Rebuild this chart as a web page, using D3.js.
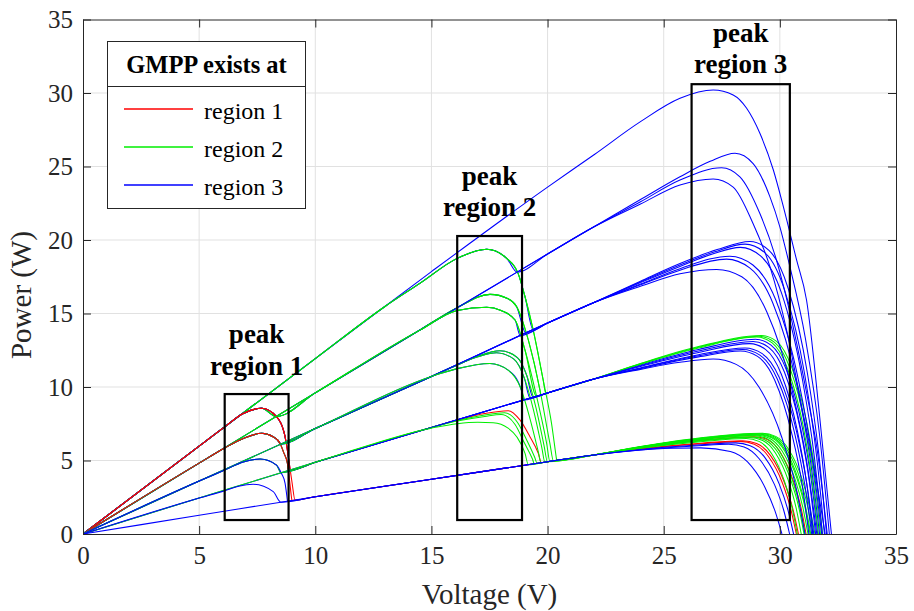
<!DOCTYPE html>
<html>
<head>
<meta charset="utf-8">
<script src="https://cdn.jsdelivr.net/npm/d3@7"></script>
<style>
  body { margin: 0; background: #fff; }
  svg { display: block; }
  text { font-family: "Liberation Serif", "Times New Roman", Times, serif; fill: #262626; }
</style>
</head>
<body>
<svg id="chart" width="914" height="611"></svg>
<script>
// ---------------- DATA ----------------
const xTicks = [0, 5, 10, 15, 20, 25, 30, 35];
const yTicks = [0, 5, 10, 15, 20, 25, 30, 35];
const levels = [1, 0.8, 0.6, 0.4, 0.2];
const legendLabels = ["region 1", "region 2", "region 3"];
const legendTitle = "GMPP exists at";
const regionColors = ["#ff0000", "#00ee00", "#0000ff"];

// straight (constant-current) parts, Voltage (V) -> Power (W)
const rays = {
  "1":   [[0,0],[5,5.98],[10,11.93],[15,17.85],[20,23.6],[22,25.8]],
  "0.8": [[0,0],[5,4.82],[10,9.6],[15,14.35],[20,19.05],[22,20.9]],
  "0.6": [[0,0],[5,3.6],[10,7.18],[15,10.72],[20,14.35],[22,15.75]],
  "0.4": [[0,0],[5,2.45],[10,4.88],[15,7.25],[20,9.6],[22,10.55]],
  "0.2": [[0,0],[5,1.27],[10,2.54],[15,3.72],[20,4.92],[22,5.38]]
};

// humps in peak region 1 (keyed by highest irradiance a)
const hump1 = {
  "1":   [[6.1,7.29],[6.9,8.2],[7.69,8.55],[8.33,7.98],[8.7,6.62],[8.88,4.81],[9.0,3.5],[9.13,2.3],[9.2,1.6]],
  "0.8": [[6.1,5.85],[6.9,6.5],[7.69,6.85],[8.2,6.6],[8.48,6.17],[8.65,5.5],[8.8,4.81],[8.98,2.43],[9.05,1.6]],
  "0.6": [[6.1,4.35],[6.9,4.9],[7.62,5.1],[8.33,4.69],[8.55,4.1],[8.7,3.45],[8.8,2.27],[8.85,1.6]],
  "0.4": [[6.1,2.95],[6.7,3.25],[7.33,3.38],[8.19,2.88],[8.52,2.16],[8.6,1.6]]
};

// humps in peak region 2 (keyed by a,b)
const hump2 = {
  "1,1":     [[13,15.48],[14.5,17.05],[16.11,18.75],[17.38,19.37],[18.24,18.75],[18.73,17.73],[19.03,16.14],[19.38,13.88],[19.81,10.48],[20.17,7.53],[20.39,5.03],[20.45,4.4]],
  "1,0.8":   [[14.5,13.87],[16.11,15.4],[17.52,16.3],[18.3,16.0],[18.67,15.46],[19.17,13.2],[19.67,9.8],[20.1,6.17],[20.3,4.6]],
  "0.8,0.8": [[14.5,13.87],[16.11,15.2],[17.38,15.42],[18.0,15.2],[18.6,14.56],[19.03,12.5],[19.53,9.34],[19.96,6.17],[20.15,4.5]],
  "1,0.6":   [[15,10.72],[16.11,11.5],[17.0,12.1],[17.95,12.47],[18.7,12.0],[19.1,10.8],[19.5,8.6],[19.85,6.0],[20.05,4.5]],
  "0.8,0.6": [[15,10.72],[16.11,11.5],[17.0,12.05],[17.8,12.33],[18.55,11.9],[19.0,10.6],[19.4,8.4],[19.75,5.9],[19.95,4.4]],
  "0.6,0.6": [[15,10.72],[16.11,11.25],[17.52,11.6],[18.3,11.15],[18.85,9.9],[19.25,7.8],[19.6,5.6],[19.8,4.3]],
  "1,0.4":   [[15,7.25],[16.11,7.75],[17.3,8.2],[18.3,8.39],[18.81,7.76],[19.24,6.62],[19.6,5.49],[19.85,4.3]],
  "0.8,0.4": [[15,7.25],[16.11,7.72],[17.3,8.1],[18.15,8.25],[18.7,7.6],[19.1,6.4],[19.45,5.2],[19.7,4.2]],
  "0.6,0.4": [[15,7.25],[16.11,7.68],[17.3,8.0],[18.0,8.13],[18.6,7.45],[19.0,6.2],[19.35,5.1],[19.6,4.1]],
  "0.4,0.4": [[15,7.2],[16.11,7.5],[17.0,7.6],[17.66,7.57],[18.3,7.2],[18.67,6.62],[19.03,5.49],[19.3,4.0]]
};

// humps in peak region 3 (keyed by a,b,c)
const hump3 = {
  "1,1,1":       [[24,28.05],[25.7,29.64],[27.13,30.2],[27.99,29.86],[28.57,28.96],[29.14,27.26],[29.72,24.76],[30.15,22.27],[30.72,18.64],[31.15,15.9],[31.7,8.2],[32.22,0]],
  "1,1,0.8":     [[24,22.75],[25.7,24.3],[27.0,25.35],[28.07,25.9],[28.85,25.2],[29.57,22.95],[30.0,20.9],[30.43,18.2],[31.1,13.3],[31.72,6.6],[32.13,0]],
  "1,0.8,0.8":   [[24,22.6],[25.7,24.08],[27.49,24.92],[28.28,24.3],[29.14,21.8],[29.86,18.6],[30.5,14.6],[31.2,9.2],[31.6,5.8],[32.04,0]],
  "0.8,0.8,0.8": [[24,22.45],[25.7,23.74],[27.13,24.15],[27.99,23.6],[28.85,21.1],[29.57,18.2],[30.3,13.8],[30.95,8.6],[31.45,4.7],[31.95,0]],
  "1,1,0.6":     [[24,17.2],[25.7,18.4],[27.3,19.35],[28.71,19.9],[29.53,19.3],[30.36,16.7],[31.19,10.9],[31.68,5.4],[32.01,0]],
  "1,0.8,0.6":   [[24,17.15],[25.7,18.3],[27.2,19.2],[28.5,19.72],[29.36,19.13],[30.21,16.56],[31.07,10.85],[31.58,5.32],[31.92,0]],
  "0.8,0.8,0.6": [[24,17.1],[25.7,18.2],[27.1,19.05],[28.3,19.5],[29.18,18.9],[30.07,16.4],[30.95,10.7],[31.48,5.3],[31.83,0]],
  "1,0.6,0.6":   [[24,17.0],[25.7,18.05],[27.85,18.9],[28.84,18.3],[29.83,15.9],[30.81,10.4],[31.4,5.1],[31.8,0]],
  "0.8,0.6,0.6": [[24,16.95],[25.7,17.95],[27.7,18.7],[28.7,18.1],[29.7,15.7],[30.71,10.3],[31.31,5.05],[31.71,0]],
  "0.6,0.6,0.6": [[24,16.85],[25.7,17.7],[27.28,18.0],[28.36,17.5],[29.44,15.1],[30.51,9.9],[31.16,4.9],[31.59,0]],
  "1,1,0.4":     [[24,11.6],[26.5,12.75],[29.2,13.5],[29.86,13.1],[30.52,11.3],[31.18,7.4],[31.58,3.6],[31.84,0]],
  "1,0.8,0.4":   [[24,11.58],[26.5,12.7],[29.1,13.45],[29.76,13.05],[30.43,11.3],[31.09,7.4],[31.49,3.6],[31.75,0]],
  "0.8,0.8,0.4": [[24,11.55],[26.5,12.65],[29.0,13.4],[29.67,13.0],[30.33,11.26],[31.0,7.37],[31.39,3.6],[31.66,0]],
  "1,0.6,0.4":   [[24,11.5],[26.5,12.55],[28.95,13.25],[29.62,12.85],[30.29,11.13],[30.96,7.29],[31.36,3.58],[31.63,0]],
  "0.8,0.6,0.4": [[24,11.45],[26.5,12.45],[28.85,13.1],[29.52,12.7],[30.2,11.0],[30.87,7.2],[31.27,3.54],[31.54,0]],
  "0.6,0.6,0.4": [[24,11.4],[26.5,12.35],[28.7,12.95],[29.38,12.56],[30.06,10.88],[30.74,7.12],[31.15,3.5],[31.42,0]],
  "1,0.4,0.4":   [[24,11.3],[26.5,12.2],[28.5,12.65],[29.24,12.27],[29.98,10.63],[30.72,6.96],[31.16,3.42],[31.46,0]],
  "0.8,0.4,0.4": [[24,11.28],[26.5,12.12],[28.4,12.55],[29.14,12.17],[29.89,10.54],[30.63,6.9],[31.07,3.39],[31.37,0]],
  "0.6,0.4,0.4": [[24,11.25],[26.5,12.05],[28.3,12.45],[29.04,12.08],[29.78,10.46],[30.51,6.85],[30.96,3.36],[31.25,0]],
  "0.4,0.4,0.4": [[24,11.2],[25.7,11.68],[27.13,11.9],[28.12,11.54],[29.1,10.0],[30.09,6.55],[30.69,3.2],[31.08,0]],
  "1,1,0.2":     [[24,5.95],[26.6,6.55],[29.25,6.85],[29.82,6.64],[30.38,5.75],[30.95,3.77],[31.28,1.85],[31.51,0]],
  "1,0.8,0.2":   [[24,5.94],[26.6,6.52],[29.2,6.82],[29.76,6.62],[30.31,5.73],[30.87,3.75],[31.2,1.84],[31.42,0]],
  "0.8,0.8,0.2": [[24,5.93],[26.6,6.5],[29.15,6.78],[29.7,6.58],[30.24,5.7],[30.79,3.73],[31.11,1.83],[31.33,0]],
  "1,0.6,0.2":   [[24,5.92],[26.6,6.47],[29.1,6.75],[29.65,6.55],[30.2,5.67],[30.75,3.71],[31.08,1.82],[31.3,0]],
  "0.8,0.6,0.2": [[24,5.91],[26.6,6.45],[29.0,6.72],[29.55,6.52],[30.1,5.64],[30.66,3.7],[30.99,1.81],[31.21,0]],
  "0.6,0.6,0.2": [[24,5.9],[26.6,6.42],[28.9,6.68],[29.45,6.48],[29.99,5.61],[30.54,3.67],[30.87,1.8],[31.09,0]],
  "1,0.4,0.2":   [[24,5.88],[26.6,6.38],[28.9,6.62],[29.46,6.42],[30.02,5.56],[30.57,3.64],[30.91,1.79],[31.13,0]],
  "0.8,0.4,0.2": [[24,5.87],[26.6,6.36],[28.8,6.6],[29.36,6.4],[29.92,5.54],[30.48,3.63],[30.82,1.78],[31.04,0]],
  "0.6,0.4,0.2": [[24,5.86],[26.6,6.33],[28.7,6.56],[29.26,6.36],[29.81,5.51],[30.37,3.61],[30.7,1.77],[30.92,0]],
  "0.4,0.4,0.2": [[24,5.84],[26.6,6.28],[28.55,6.5],[29.1,6.3],[29.65,5.46],[30.2,3.58],[30.53,1.76],[30.75,0]],
  "1,0.2,0.2":   [[24,5.8],[26.6,6.18],[28.4,6.35],[29.0,6.16],[29.6,5.33],[30.2,3.49],[30.56,1.71],[30.8,0]],
  "0.8,0.2,0.2": [[24,5.78],[26.6,6.14],[28.3,6.3],[28.9,6.11],[29.5,5.29],[30.11,3.47],[30.47,1.7],[30.71,0]],
  "0.6,0.2,0.2": [[24,5.75],[26.6,6.07],[28.1,6.2],[28.72,6.01],[29.35,5.21],[29.97,3.41],[30.34,1.67],[30.59,0]],
  "0.4,0.2,0.2": [[24,5.72],[26.5,6.0],[27.8,6.1],[28.46,5.92],[29.11,5.12],[29.77,3.36],[30.16,1.65],[30.42,0]],
  "0.2,0.2,0.2": [[24,5.72],[25.4,5.83],[26.6,5.86],[27.87,5.62],[28.61,4.9],[29.35,3.2],[29.79,1.57],[30.09,0]]
};

// irradiance of the three modules (a >= b >= c) and the region holding the GMPP, in drawing order
const curves = [
  [1,1,1,3],[1,1,0.8,3],[1,1,0.6,3],[1,1,0.4,2],[1,1,0.2,2],
  [1,0.8,0.8,3],[1,0.8,0.6,3],[1,0.8,0.4,2],[1,0.8,0.2,2],
  [1,0.6,0.6,3],[1,0.6,0.4,3],[1,0.6,0.2,2],
  [1,0.4,0.4,3],[1,0.4,0.2,1],[1,0.2,0.2,1],
  [0.8,0.8,0.8,3],[0.8,0.8,0.6,3],[0.8,0.8,0.4,2],[0.8,0.8,0.2,2],
  [0.8,0.6,0.6,3],[0.8,0.6,0.4,3],[0.8,0.6,0.2,2],
  [0.8,0.4,0.4,3],[0.8,0.4,0.2,2],[0.8,0.2,0.2,1],
  [0.6,0.6,0.6,3],[0.6,0.6,0.4,3],[0.6,0.6,0.2,2],
  [0.6,0.4,0.4,3],[0.6,0.4,0.2,2],[0.6,0.2,0.2,3],
  [0.4,0.4,0.4,3],[0.4,0.4,0.2,2],[0.4,0.2,0.2,3],
  [0.2,0.2,0.2,3]
];

// peak-region boxes [V0, V1, P0, P1]
const peakBoxes = [[6.1, 8.85, 0.95, 9.52], [16.11, 18.9, 0.95, 20.27], [26.2, 30.43, 0.95, 30.6]];
const peakLabels = [["peak", "region 1"], ["peak", "region 2"], ["peak", "region 3"]];

// ---------------- LAYOUT ----------------
const L = 83, R = 896, T = 19.5, B = 534;
const svg = d3.select("#chart");
const x = d3.scaleLinear().domain([0, 35]).range([L, R]);
const y = d3.scaleLinear().domain([0, 35]).range([B, T]);
const axisColor = "#262626";

// grid
const grid = svg.append("g");
grid.selectAll("line.gx").data(xTicks.slice(1, -1)).join("line")
  .attr("x1", d => x(d)).attr("x2", d => x(d)).attr("y1", T).attr("y2", B)
  .attr("stroke", "#e1e1e1").attr("stroke-width", 1);
grid.selectAll("line.gy").data(yTicks.slice(1, -1)).join("line")
  .attr("y1", d => y(d)).attr("y2", d => y(d)).attr("x1", L).attr("x2", R)
  .attr("stroke", "#e1e1e1").attr("stroke-width", 1);

// curves
function rayAt(level, v) {
  const r = rays[level];
  for (let i = 1; i < r.length; i++) {
    if (v <= r[i][0] || i === r.length - 1) {
      const [v0, p0] = r[i - 1], [v1, p1] = r[i];
      return p0 + (v - v0) / (v1 - v0) * (p1 - p0);
    }
  }
}
function addHump(pts, hump, low) {
  for (let i = 0; i < hump.length; i++) {
    const [v, p] = hump[i];
    const rv = rayAt(String(low), v);
    if (p > rv) { pts.push([v, p]); continue; }
    if (i === 0) { pts.push([v, rv]); return; }
    const [v0, p0] = hump[i - 1];
    const d0 = p0 - rayAt(String(low), v0), d1 = p - rv;
    const vx = v0 + d0 / (d0 - d1) * (v - v0);
    pts.push([vx, rayAt(String(low), vx)]);
    return;
  }
}
function lastV(pts) { return pts[pts.length - 1][0]; }
function pushRay(pts, level, vEnd) {
  const v0 = lastV(pts);
  rays[String(level)].forEach(p => { if (p[0] > v0 + 0.05 && p[0] < vEnd - 0.05) pts.push(p); });
}
function build(a, b, c) {
  const pts = [[0, 0]];
  if (a > b) {
    const h1 = hump1[String(a)];
    pushRay(pts, a, h1[0][0]);
    addHump(pts, h1, b);
  }
  const h2 = b > c ? hump2[a + "," + b] : null;
  const h3 = hump3[a + "," + b + "," + c];
  pushRay(pts, b, h2 ? h2[0][0] : h3[0][0]);
  if (h2) { addHump(pts, h2, c); pushRay(pts, c, h3[0][0]); }
  const v0 = lastV(pts);
  h3.forEach(p => { if (p[0] > v0 + 0.05) pts.push(p); });
  return pts;
}

svg.append("clipPath").attr("id", "plotclip").append("rect")
  .attr("x", L).attr("y", T).attr("width", R - L).attr("height", B - T);
const line = d3.line().x(d => x(d[0])).y(d => y(d[1])).curve(d3.curveMonotoneX);
svg.append("g").attr("clip-path", "url(#plotclip)")
  .selectAll("path").data(curves).join("path")
  .attr("d", d => line(build(d[0], d[1], d[2])))
  .attr("fill", "none")
  .attr("stroke", d => regionColors[d[3] - 1])
  .attr("stroke-width", 1.05);

// peak region boxes
svg.append("g").selectAll("rect").data(peakBoxes).join("rect")
  .attr("x", d => x(d[0])).attr("y", d => y(d[3]))
  .attr("width", d => x(d[1]) - x(d[0])).attr("height", d => y(d[2]) - y(d[3]))
  .attr("fill", "none").attr("stroke", "#000").attr("stroke-width", 2.2);

// peak region labels
const labelBase = [[343, 375], [185, 216], [42, 73]];
peakBoxes.forEach((bx, i) => {
  const cx = (x(bx[0]) + x(bx[1])) / 2;
  peakLabels[i].forEach((t, j) => {
    svg.append("text").attr("x", cx).attr("y", labelBase[i][j])
      .attr("text-anchor", "middle").attr("font-size", 27).attr("font-weight", "bold")
      .style("fill", "#000").text(t);
  });
});

// axes
function styleAxis(g) {
  g.attr("font-family", null).attr("font-size", null);
  g.selectAll("path.domain").attr("stroke", axisColor).attr("stroke-width", 1);
  g.selectAll(".tick line").attr("stroke", axisColor).attr("stroke-width", 1);
  g.selectAll(".tick text").attr("font-size", 25)
    .style("font-family", "'Liberation Serif', 'Times New Roman', serif").style("fill", axisColor);
}
svg.append("g").attr("transform", `translate(0,${B})`)
  .call(d3.axisBottom(x).tickValues(xTicks).tickSize(-8).tickSizeOuter(0).tickPadding(12).tickFormat(d3.format("d")))
  .call(styleAxis);
svg.append("g").attr("transform", `translate(${L},0)`)
  .call(d3.axisLeft(y).tickValues(yTicks).tickSize(-8).tickSizeOuter(0).tickPadding(10).tickFormat(d3.format("d")))
  .call(styleAxis);
svg.append("g").attr("transform", `translate(0,${T})`)
  .call(d3.axisTop(x).tickValues(xTicks).tickSize(-8).tickSizeOuter(0).tickFormat(() => ""))
  .call(styleAxis);
svg.append("g").attr("transform", `translate(${R},0)`)
  .call(d3.axisRight(y).tickValues(yTicks).tickSize(-8).tickSizeOuter(0).tickFormat(() => ""))
  .call(styleAxis);

// axis labels
svg.append("text").attr("x", (L + R) / 2).attr("y", 604)
  .attr("text-anchor", "middle").attr("font-size", 29).text("Voltage (V)");
svg.append("text").attr("transform", "translate(31,295) rotate(-90)")
  .attr("text-anchor", "middle").attr("font-size", 29).text("Power (W)");

// legend
const lg = svg.append("g");
lg.append("rect").attr("x", 107.5).attr("y", 41.5).attr("width", 198).attr("height", 167)
  .attr("fill", "#fff").attr("stroke", axisColor).attr("stroke-width", 1);
lg.append("line").attr("x1", 107.5).attr("x2", 305.5).attr("y1", 86.5).attr("y2", 86.5)
  .attr("stroke", axisColor).attr("stroke-width", 1);
lg.append("text").attr("x", 206.5).attr("y", 73).attr("text-anchor", "middle")
  .attr("font-size", 24.5).attr("font-weight", "bold").style("fill", "#000").text(legendTitle);
legendLabels.forEach((t, i) => {
  const ly = 109 + i * 38;
  lg.append("line").attr("x1", 124).attr("x2", 193).attr("y1", ly).attr("y2", ly)
    .style("stroke", regionColors[i]).attr("stroke-width", 1.4);
  lg.append("text").attr("x", 204).attr("y", ly + 10).attr("font-size", 24).style("fill", "#000").text(t);
});
</script>
</body>
</html>
